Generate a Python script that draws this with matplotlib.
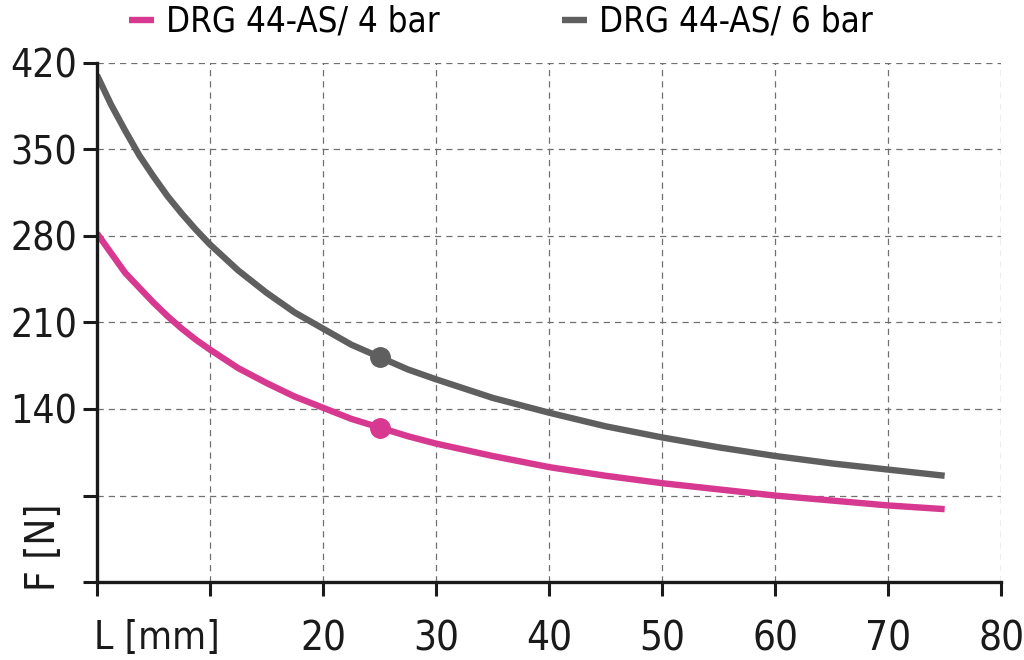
import numpy as np
import matplotlib
matplotlib.use("Agg")
import matplotlib.pyplot as plt

plt.rcParams['font.family'] = ['DejaVu Sans']
plt.rcParams['font.stretch'] = 'condensed'

# stroke length L [mm]
laenge = [0, 1.25, 2.5, 3.75, 5, 6.25, 7.5, 8.75, 10, 12.5, 15, 17.5, 20, 22.5, 25,
          27.5, 30, 35, 40, 45, 50, 55, 60, 65, 70, 75]
# force F [N], 4 bar
kraft_4bar = [282, 266, 250, 238, 226, 215, 205, 196, 188, 173, 161, 150, 141, 132, 125,
              118, 112, 102, 93, 86, 80, 75, 70, 66, 62, 59]
# force F [N], 6 bar
kraft_6bar = [410, 386, 365, 345, 328, 312, 298, 285, 273, 252, 234, 218, 205, 192, 182,
              172, 164, 149, 137, 126, 117, 109, 102, 96, 91, 86]
# marked point
punkt_x = 25
punkt_4bar = 125
punkt_6bar = 182

serien = ["DRG 44-AS/ 4 bar", "DRG 44-AS/ 6 bar"]
farben = ["#d6398f", "#5f5f5f"]

x_ticks = [0, 10, 20, 30, 40, 50, 60, 70, 80]
x_labels = ["", "", "20", "30", "40", "50", "60", "70", "80"]
y_ticks = [0, 70, 140, 210, 280, 350, 420]
y_labels = ["", "", "140", "210", "280", "350", "420"]

fig = plt.figure(figsize=(10.24, 6.6), dpi=100)
ax = fig.add_axes([0.0947, 0.118, 0.883, 0.787])

ax.plot(laenge, kraft_4bar, color=farben[0], lw=4.6, label=serien[0],
        solid_capstyle='butt', solid_joinstyle='round')
ax.plot(laenge, kraft_6bar, color=farben[1], lw=4.6, label=serien[1],
        solid_capstyle='butt', solid_joinstyle='round')
ax.plot(punkt_x, punkt_4bar, 'o', color=farben[0], ms=14)
ax.plot(punkt_x, punkt_6bar, 'o', color=farben[1], ms=14)

ax.set_xlim(0, 80)
ax.set_ylim(0, 420)
ax.set_xticks(x_ticks)
ax.set_xticklabels(x_labels)
ax.set_yticks(y_ticks)
ax.set_yticklabels(y_labels)
ax.tick_params(axis='both', length=10, width=2.2, color='#1a1a1a', labelcolor='#1a1a1a')
ax.tick_params(axis='x', pad=17, labelsize=29)
ax.tick_params(axis='y', pad=4, labelsize=28)

ax.grid(True, ls=(0, (5, 4)), color='#707070', lw=0.9)
ax.set_axisbelow(True)
for s in ['top', 'right']:
    ax.spines[s].set_visible(False)
for s in ['left', 'bottom']:
    ax.spines[s].set_linewidth(2.4)
    ax.spines[s].set_color('#1a1a1a')

ax.text(5.3, -45.5, "L [mm]", ha='center', va='center', fontsize=28, color='#1a1a1a', clip_on=False)
ax.text(-4.7, 28, "F [N]", ha='center', va='center', rotation=90, fontsize=29, color='#1a1a1a', clip_on=False)

fig.legend(loc='upper left', bbox_to_anchor=(0.095, 1.04), ncol=2, frameon=False,
           fontsize=25, handlelength=0.72, handletextpad=0.37, columnspacing=3.5)

fig.savefig("out.png", dpi=100)
